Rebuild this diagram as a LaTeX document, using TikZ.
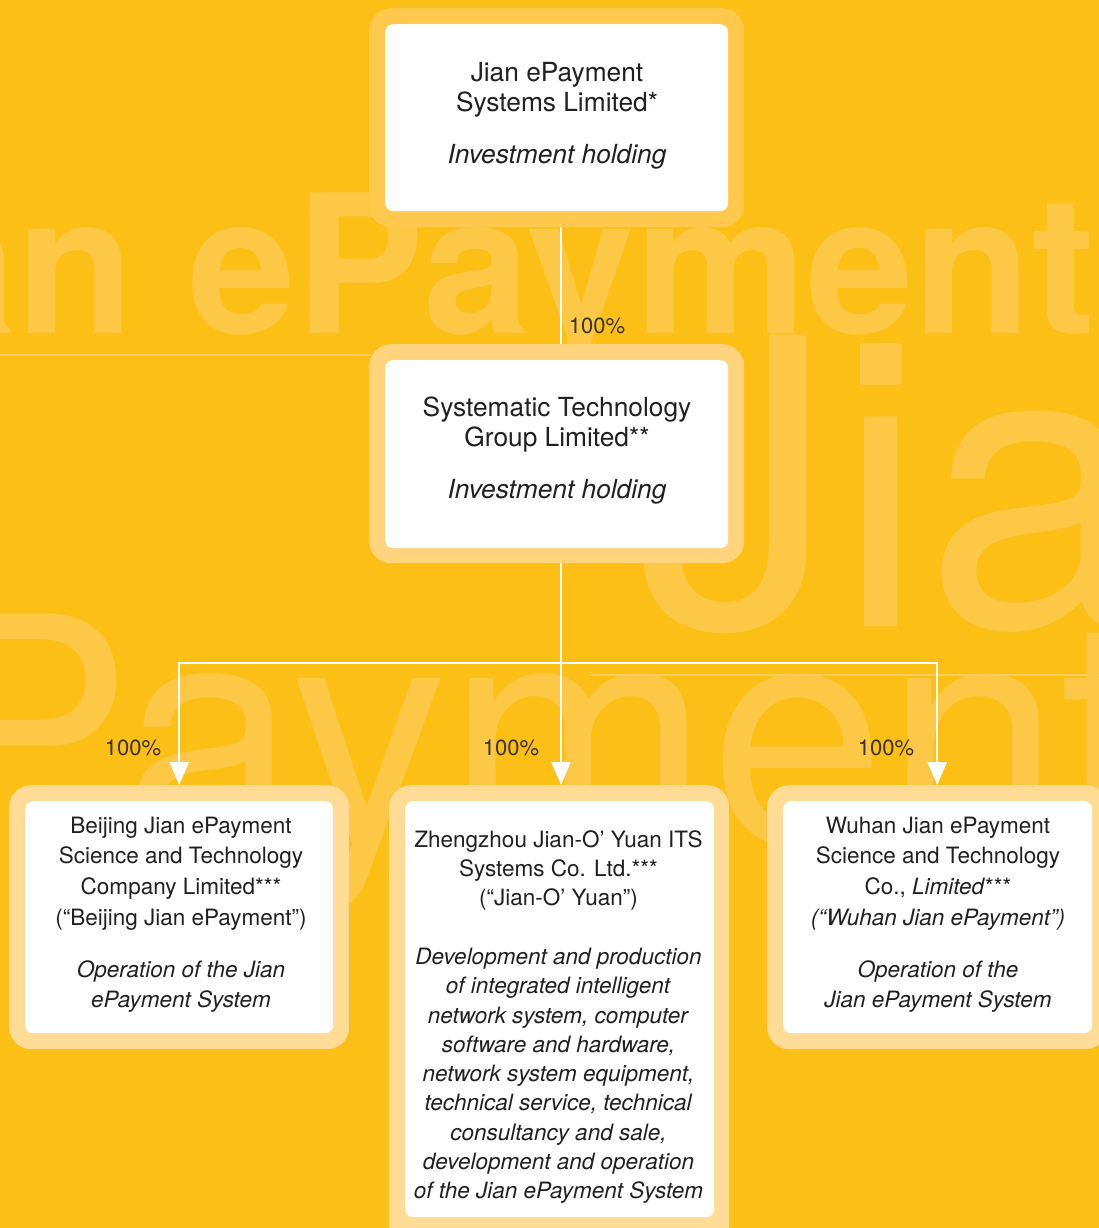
\documentclass[tikz,border=0pt]{standalone}
\usepackage{fontspec}
\setmainfont{TeX Gyre Heros}
\usetikzlibrary{arrows.meta}
\definecolor{bg}{HTML}{FCBF16}
\definecolor{wm}{HTML}{FEC847}
\definecolor{wmline}{HTML}{FECD5A}
\definecolor{frameA}{HTML}{FFC94E}
\definecolor{frameB}{HTML}{FFD47D}
\definecolor{frameC}{HTML}{FFDC96}
\definecolor{ink}{HTML}{231F20}
\definecolor{pct}{HTML}{3A3428}
\begin{document}
\begin{tikzpicture}[x=1pt,y=-1pt,
  framebox/.style={rounded corners=22pt, inner sep=0pt, anchor=north west},
  whitebox/.style={fill=white, rounded corners=8pt, inner sep=0pt, anchor=north west},
  bigtext/.style={font=\fontsize{26.3}{30}\selectfont, text=ink, align=center, inner sep=0pt, anchor=north},
  smalltext/.style={font=\fontsize{22.5}{30.6}\selectfont, text=ink, align=center, inner sep=0pt, anchor=north},
  midtext/.style={font=\fontsize{22.5}{29.3}\selectfont, text=ink, align=center, inner sep=0pt, anchor=north},
  wmtext/.style={text=wm, inner sep=0pt, anchor=base west},
  pctlabel/.style={font=\fontsize{22}{24}\selectfont, text=pct, inner sep=0pt, anchor=base},
  conn/.style={draw=white, line width=2.5pt},
  arr/.style={conn, -{Triangle[length=23pt,width=19pt]}}]
\useasboundingbox (0,0) rectangle (1099,1228);
\begin{scope}
\clip (0,0) rectangle (1099,1228);
\fill[bg] (0,0) rectangle (1099,1228);
% watermark
\node[wmtext, font=\fontsize{193}{193}\selectfont\bfseries] (wm1) at (-252,333) {Jian ePayment};
\node[wmtext, font=\fontsize{400}{400}\selectfont] (wm2) at (636,626) {Jian};
\node[wmtext, font=\fontsize{315}{315}\selectfont] (wm3) at (-78,843) {Payment};
\draw[wmline, line width=1.5pt] (0,355) -- (371,355);
\draw[wmline, line width=1.5pt] (589,675) -- (1099,675);
% frames
\node[framebox, fill=frameA, minimum width=375pt, minimum height=219pt] (top) at (369,8) {};
\node[framebox, fill=frameB, minimum width=375pt, minimum height=219pt] (mid) at (369,344) {};
\node[framebox, fill=frameC, minimum width=340pt, minimum height=264pt] (leftb) at (9,785) {};
\node[framebox, fill=frameC, minimum width=340pt, minimum height=470pt] (midb) at (389,785) {};
\node[framebox, fill=frameC, minimum width=340pt, minimum height=264pt] (rightb) at (767,785) {};
% white boxes
\node[whitebox, minimum width=343pt, minimum height=187pt] (topi) at (385,24) {};
\node[whitebox, minimum width=343pt, minimum height=188pt] (midi) at (385,360) {};
\node[whitebox, minimum width=308pt, minimum height=232pt] (lefti) at (25,801) {};
\node[whitebox, minimum width=309pt, minimum height=416pt] (midbi) at (405,801) {};
\node[whitebox, minimum width=309pt, minimum height=232pt] (righti) at (783,801) {};
% texts
\node[bigtext] (toptext) at (557,60) {\strut Jian ePayment\\Systems Limited*\\[22pt]\textit{Investment holding}};
\node[bigtext] (midtext) at (557,395) {\strut Systematic Technology\\Group Limited**\\[22pt]\textit{Investment holding}};
\node[smalltext] (lefttext) at (181,811.6) {\strut Beijing Jian ePayment\\Science and Technology\\Company Limited***\\(“Beijing Jian ePayment”)\\[21.4pt]\textit{Operation of the Jian}\\\textit{ePayment System}};
\node[midtext] (midbtext) at (558.5,826.5) {\strut Zhengzhou Jian-O’ Yuan ITS\\Systems Co. Ltd.***\\(“Jian-O’ Yuan”)\\[29.3pt]\textit{Development and production}\\\textit{of integrated intelligent}\\\textit{network system, computer}\\\textit{software and hardware,}\\\textit{network system equipment,}\\\textit{technical service, technical}\\\textit{consultancy and sale,}\\\textit{development and operation}\\\textit{of the Jian ePayment System}};
\node[smalltext] (righttext) at (938,811.6) {\strut Wuhan Jian ePayment\\Science and Technology\\Co., \textit{Limited}***\\\textit{(“Wuhan Jian ePayment”)}\\[21.4pt]\textit{Operation of the}\\\textit{Jian ePayment System}};
% connectors
\coordinate (split) at (561,663);
\draw[conn] (split |- top.south) -- (split |- mid.north);
\draw[conn] (split |- mid.south) -- (split);
\draw[arr] (split) -- (split |- midb.north);
\draw[arr] (split) -| (leftb.north);
\draw[arr] (split) -| (rightb.north);
% labels
\node[pctlabel] (p1) at (597,333) {100\%};
\node[pctlabel] (p2) at (133,755) {100\%};
\node[pctlabel] (p3) at (511,755) {100\%};
\node[pctlabel] (p4) at (886,755) {100\%};
\end{scope}
\end{tikzpicture}
\end{document}
